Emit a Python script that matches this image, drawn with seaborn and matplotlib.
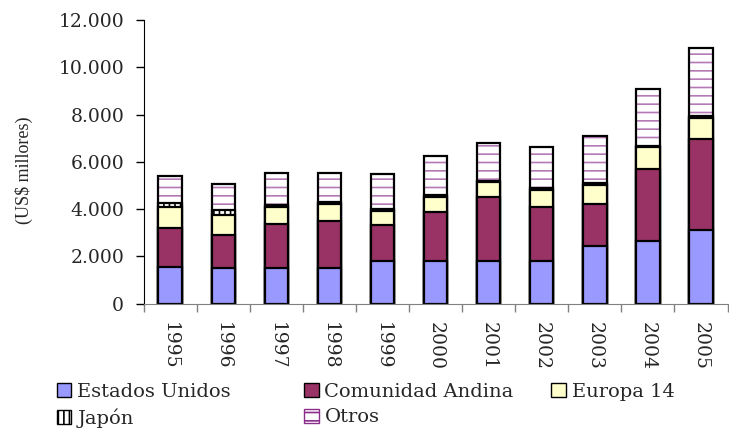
import numpy as np
import pandas as pd
import matplotlib
matplotlib.use("Agg")
import matplotlib.pyplot as plt
import seaborn as sns
from matplotlib.ticker import FuncFormatter, FixedLocator
from matplotlib.patches import Patch

years = ["1995", "1996", "1997", "1998", "1999", "2000", "2001", "2002", "2003", "2004", "2005"]
estados_unidos = [1570, 1495, 1500, 1490, 1800, 1800, 1800, 1800, 2430, 2640, 3120]
comunidad_andina = [1640, 1425, 1860, 1990, 1520, 2070, 2700, 2270, 1780, 3080, 3830]
europa_14 = [870, 850, 750, 730, 620, 650, 630, 760, 830, 890, 930]
japon = [170, 180, 50, 80, 60, 70, 70, 80, 50, 50, 60]
otros = [1170, 1130, 1380, 1250, 1470, 1650, 1600, 1710, 2000, 2430, 2870]

sns.set_style("white")
plt.rcParams["font.family"] = ["DejaVu Serif"]
plt.rcParams["hatch.linewidth"] = 1.2

df = pd.DataFrame({"year": years, "eu": estados_unidos, "can": comunidad_andina,
                   "eur": europa_14, "jap": japon, "otros": otros})
# cumulative heights, drawn tallest first so each layer covers the one above it
df["c1"] = df["eu"]
df["c2"] = df["c1"] + df["can"]
df["c3"] = df["c2"] + df["eur"]
df["c4"] = df["c3"] + df["jap"]
df["c5"] = df["c4"] + df["otros"]

fig = plt.figure(figsize=(7.29, 4.30), dpi=100)
ax = fig.add_axes([0.197, 0.294, 0.801, 0.659])

w = 0.44
lw = 1.6
purple = "#B57AB5"
# Otros: purple dashes hatch, then a black outline on top
sns.barplot(data=df, x="year", y="c5", color="white", edgecolor=purple, hatch="--",
            linewidth=0, width=w, ax=ax, errorbar=None)
sns.barplot(data=df, x="year", y="c5", fill=False, edgecolor="black",
            linewidth=lw, width=w, ax=ax, errorbar=None)
sns.barplot(data=df, x="year", y="c4", color="white", edgecolor="black", hatch="|||",
            linewidth=lw, width=w, ax=ax, errorbar=None)
sns.barplot(data=df, x="year", y="c3", color="#FFFFCC", edgecolor="black",
            linewidth=lw, width=w, ax=ax, errorbar=None, saturation=1)
sns.barplot(data=df, x="year", y="c2", color="#993366", edgecolor="black",
            linewidth=lw, width=w, ax=ax, errorbar=None, saturation=1)
sns.barplot(data=df, x="year", y="c1", color="#9999FF", edgecolor="black",
            linewidth=lw, width=w, ax=ax, errorbar=None, saturation=1)

ax.set_ylim(0, 12000)
ax.set_xlim(-0.5, len(years) - 0.5)
ax.set_yticks(np.arange(0, 12001, 2000))
ax.yaxis.set_major_formatter(FuncFormatter(lambda v, p: f"{v:,.0f}".replace(",", ".")))
ax.tick_params(axis="y", direction="out", length=6, width=1, color="black",
               labelsize=13.5, left=True, pad=8)
ax.tick_params(axis="x", which="major", length=0, labelsize=13.5, pad=13, labelrotation=-90)
ax.xaxis.set_minor_locator(FixedLocator(np.arange(-0.5, len(years), 1)))
ax.tick_params(axis="x", which="minor", length=6, width=1, color="#808080", bottom=True)

ax.set_xlabel("")
ax.set_ylabel(r"(US\$ millores)", fontsize=13, family="Liberation Serif")
ax.yaxis.set_label_coords(-0.19, 0.47)

for s in ["top", "right"]:
    ax.spines[s].set_visible(False)
ax.spines["left"].set_color("black")
ax.spines["bottom"].set_color("#808080")

h_eu = Patch(facecolor="#9999FF", edgecolor="black", label="Estados Unidos")
h_jap = Patch(facecolor="white", edgecolor="black", hatch="|||", label="Japón")
h_can = Patch(facecolor="#993366", edgecolor="black", label="Comunidad Andina")
h_otr = Patch(facecolor="white", edgecolor="#8B2D8B", hatch="--", label="Otros")
h_eur = Patch(facecolor="#FFFFCC", edgecolor="black", label="Europa 14")

leg_kw = dict(loc="upper left", frameon=False, fontsize=14, handlelength=0.75,
              handleheight=0.75, handletextpad=0.3, labelspacing=0.4, borderpad=0,
              borderaxespad=0)
for hs, x0 in [([h_eu, h_jap], 0.078), ([h_can, h_otr], 0.417), ([h_eur], 0.756)]:
    fig.legend(handles=hs, bbox_to_anchor=(x0, 0.11), **leg_kw)

fig.savefig("out.png", dpi=100)
